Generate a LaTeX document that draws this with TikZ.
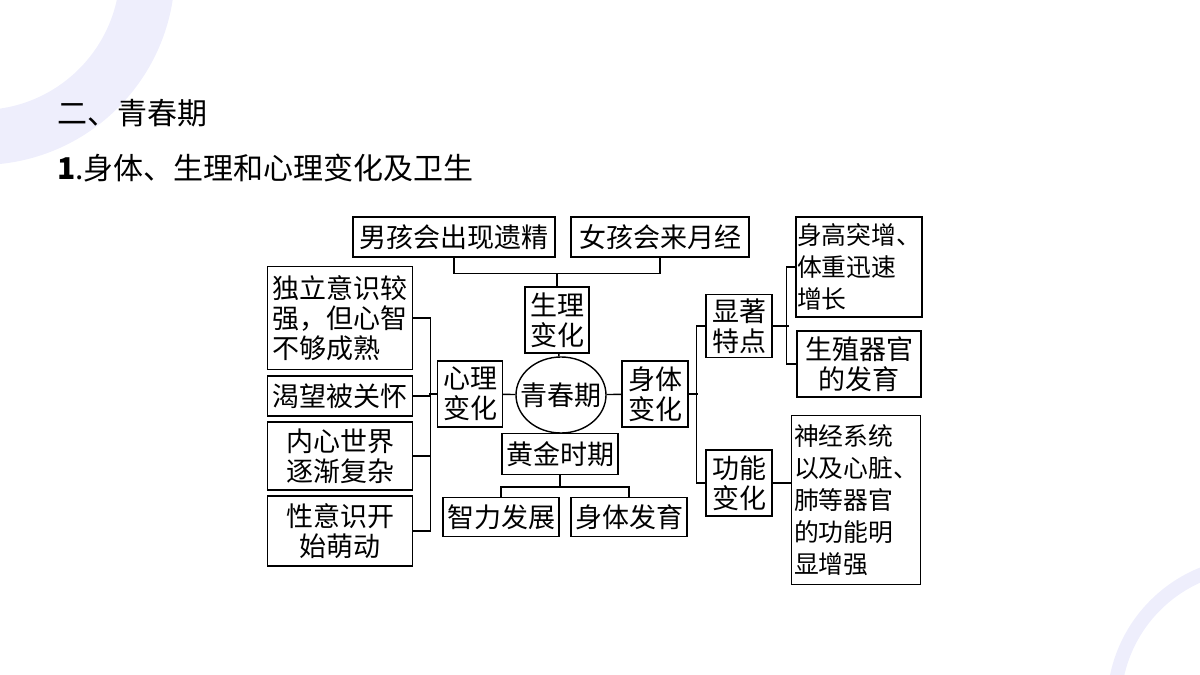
\documentclass[tikz,border=0pt]{standalone}
\usepackage{fontspec}
\setmainfont{Noto Sans CJK SC}
\newfontfamily\cjk{Noto Sans CJK SC}
\usetikzlibrary{shapes.geometric}
\definecolor{ringc}{HTML}{EEEEFC}
\tikzset{
  box/.style={draw,line width=0.7pt,inner sep=1pt,align=center,font=\fontsize{13.5}{15}\cjk},
  narrowbox/.style={box,align=left,inner sep=0.5pt,font=\fontsize{12.4}{16}\cjk},
  link/.style={line width=0.7pt}
}
\begin{document}
\begin{tikzpicture}[x=0.5pt,y=-0.5pt]
\useasboundingbox (0,0) rectangle (1200,675);
\begin{scope}
\clip (0,0) rectangle (1200,675);
\draw[ringc,line width=27.5pt] (-20,-30) circle (167.5);
\draw[ringc,line width=7pt] (1255,705) circle (141);
\end{scope}

% titles
\node[anchor=west,font=\fontsize{15}{17}\cjk] (t1) at (50,113) {二、青春期};
\node[anchor=west,font=\fontsize{15}{17}\cjk] (t2) at (50,168) {\textbf{1}.身体、生理和心理变化及卫生};

% centre
\node[draw,ellipse,line width=0.7pt,minimum width=45pt,minimum height=38pt,inner sep=0pt,
  label={[font=\fontsize{13.5}{15}\cjk]center:青春期}] (qcq) at (561,395) {};
\node[box,minimum width=32pt,minimum height=33pt] (sl) at (557,320) {生理\\变化};
\node[box,minimum width=32.5pt,minimum height=33pt] (xl) at (470,394) {心理\\变化};
\node[box,minimum width=33pt,minimum height=33pt] (st) at (655,394) {身体\\变化};
\node[box,minimum width=58pt,minimum height=20.5pt] (hj) at (560,454) {黄金时期};
\node[box,minimum width=58pt,minimum height=19.5pt] (zl) at (501,517) {智力发展};
\node[box,minimum width=58pt,minimum height=19.5pt] (fy) at (629,517) {身体发育};
\node[box,minimum width=101pt,minimum height=20pt] (nan) at (454,237) {男孩会出现遗精};
\node[box,minimum width=89pt,minimum height=20pt] (nv) at (660,237) {女孩会来月经};

% left
\node[box,minimum width=72.5pt,minimum height=51.5pt,align=left] (dl) at (340,318) {独立意识较\\强，但心智\\不够成熟};
\node[box,minimum width=72.5pt,minimum height=20pt] (kw) at (340,396) {渴望被关怀};
\node[box,minimum width=72.5pt,minimum height=34pt] (nx) at (340,456) {内心世界\\逐渐复杂};
\node[box,minimum width=72.5pt,minimum height=35pt] (xy) at (340,531) {性意识开\\始萌动};

% right
\node[box,minimum width=33pt,minimum height=31.5pt] (xz) at (739,326) {显著\\特点};
\node[box,minimum width=33pt,minimum height=33pt] (gn) at (739,483) {功能\\变化};
\node[narrowbox,minimum width=62pt,minimum height=50pt] (sg) at (859,267) {身高突增、\\体重迅速\\增长};
\node[box,minimum width=62pt,minimum height=33pt] (sz) at (859,364) {生殖器官\\的发育};
\node[narrowbox,minimum width=64.5pt,minimum height=84.5pt] (sj) at (856,500) {神经系统\\以及心脏、\\肺等器官\\的功能明\\显增强};

% connectors
\draw[link] (nan.south) -- ++(0,16) -| (nv.south);
\draw[link] (sl.north) -- (sl.north |- 0,273);
\draw[link] (sl) -- (qcq);
\draw[link] (xl) -- (qcq);
\draw[link] (st) -- (qcq);
\draw[link] (hj) -- (qcq);
\draw[link] (zl.north) -- ++(0,-10) -| (fy.north);
\draw[link] (hj.south) -- (hj.south |- 0,487);
\draw[link] (dl.east) -- ++(17,0) |- (xy.east);
\draw[link] (kw.east) -- ++(17,0);
\draw[link] (nx.east) -- ++(17,0);
\draw[link] (xl.west) -- ++(-8,0);
\draw[link] (xz.west) -- ++(-9,0) |- (gn.west);
\draw[link] (st.east) -- ++(9,0);
\draw[link] (sg.west) -- ++(-9,0) |- (sz.west);
\draw[link] (xz.east) -- ++(16,0);
\draw[link] (gn.east) -- (sj.west |- gn.east);
\end{tikzpicture}
\end{document}
